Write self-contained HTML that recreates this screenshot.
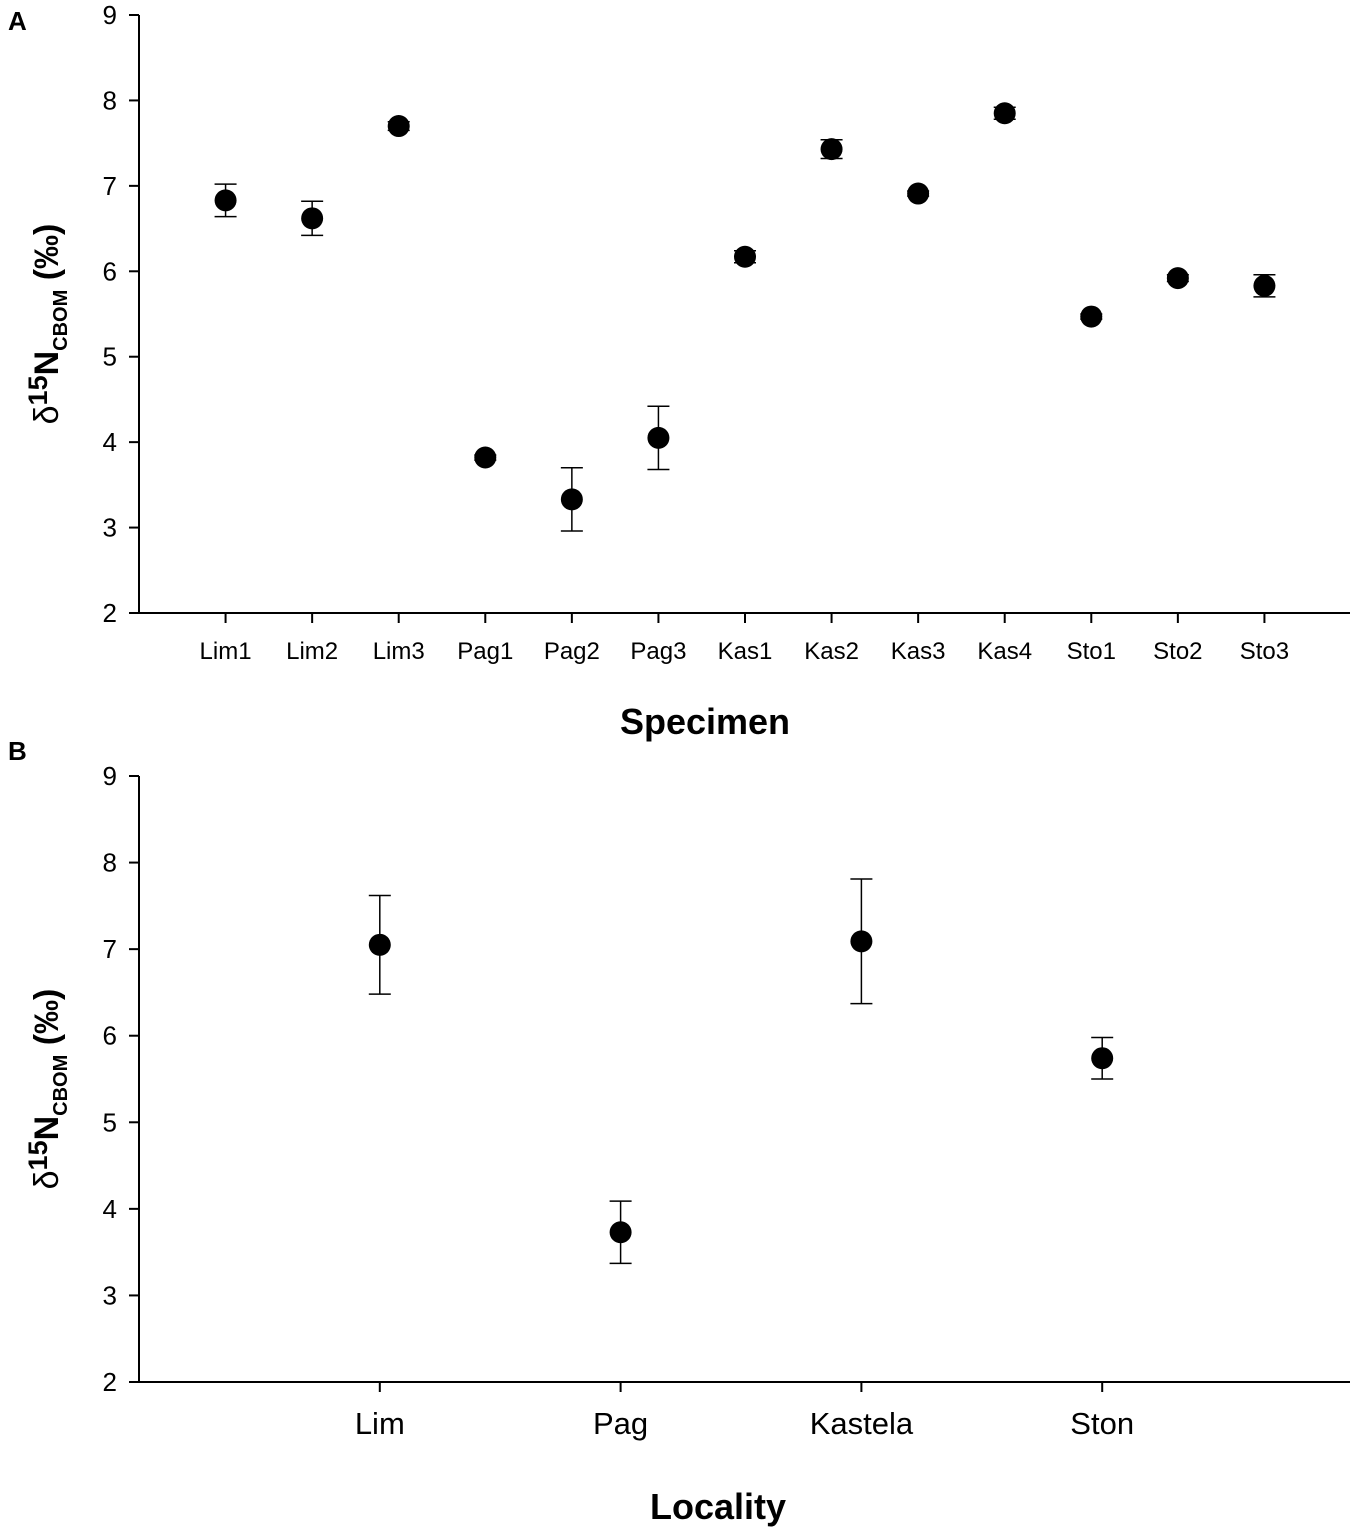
<!DOCTYPE html>
<html><head><meta charset="utf-8"><style>
body{margin:0;background:#fff;}
svg{display:block;font-family:"Liberation Sans",Arial,sans-serif;}
</style></head><body>
<svg id="fig" width="1356" height="1530" viewBox="0 0 1356 1530"></svg>
<script>
const catsA=["Lim1","Lim2","Lim3","Pag1","Pag2","Pag3","Kas1","Kas2","Kas3","Kas4","Sto1","Sto2","Sto3"];
const valsA=[6.83,6.62,7.70,3.82,3.33,4.05,6.17,7.43,6.91,7.85,5.47,5.92,5.83];
const errA=[0.19,0.20,0.05,0.03,0.37,0.37,0.07,0.11,0.03,0.07,0.03,0.04,0.13];
const catsB=["Lim","Pag","Kastela","Ston"];
const valsB=[7.05,3.73,7.09,5.74];
const errB=[0.57,0.36,0.72,0.24];
const yTicks=[2,3,4,5,6,7,8,9];
const NS="http://www.w3.org/2000/svg";
const svg=document.getElementById('fig');
function mk(t,a,txt){const e=document.createElementNS(NS,t);for(const k in a)e.setAttribute(k,a[k]);if(txt!==undefined)e.textContent=txt;svg.appendChild(e);return e;}
function panel(p,cats,vals,errs,xTitle,nm){
  const x0=139,x1=p.x1;
  const step=(x1-x0)/(cats.length+1);
  const xs=i=>x0+step*(i+1);
  const ys=v=>p.yb-(v-2)*(p.yb-p.yt)/7;
  let e=mk('line',{x1:x0,y1:p.yt,x2:x0,y2:p.yb,stroke:'#000','stroke-width':2});
  
  e=mk('line',{x1:x0,y1:p.yb,x2:1350,y2:p.yb,stroke:'#000','stroke-width':2});
  
  yTicks.forEach(t=>{
    e=mk('line',{x1:x0-10,y1:ys(t),x2:x0,y2:ys(t),stroke:'#000','stroke-width':2});
    
    e=mk('text',{x:x0-22,y:ys(t)+9,'text-anchor':'end','font-size':26},t);
    
  });
  cats.forEach((c,i)=>{
    const x=xs(i);
    e=mk('line',{x1:x,y1:p.yb,x2:x,y2:p.yb+10,stroke:'#000','stroke-width':2});
    
    e=mk('text',{x:x,y:p.yb+p.lab,'text-anchor':'middle','font-size':p.fs},c);
    
    const v=vals[i],er=errs[i];
    e=mk('line',{x1:x,y1:ys(v+er),x2:x,y2:ys(v-er),stroke:'#000','stroke-width':1.5});
    
    [v+er,v-er].forEach(w=>{e=mk('line',{x1:x-11,y1:ys(w),x2:x+11,y2:ys(w),stroke:'#000','stroke-width':1.5});
      });
    e=mk('circle',{cx:x,cy:ys(v),r:11,fill:'#000'});
    
  });
  e=mk('text',{x:p.xtx,y:p.xty,'text-anchor':'middle','font-size':36,'font-weight':'bold'},xTitle);
  
  const cy=(p.yt+p.yb)/2+10;
  e=mk('text',{transform:`translate(58,${cy}) rotate(-90)`,'text-anchor':'middle','font-size':34,'font-weight':'bold'});
  
  e.innerHTML='<tspan font-weight="normal">δ</tspan><tspan dy="-11" font-size="27">15</tspan><tspan dy="11">N</tspan><tspan dy="9" font-size="20">CBOM</tspan><tspan dy="-9"> (‰)</tspan>';
}
let e=mk('text',{x:8,y:30,'font-size':26,'font-weight':'bold'},'A');

e=mk('text',{x:8,y:760,'font-size':26,'font-weight':'bold'},'B');

panel({yt:15,yb:613,lab:46,fs:24,xtx:705,xty:734,x1:1351},catsA,valsA,errA,'Specimen','panel-a');
panel({yt:776,yb:1382,lab:52,fs:31,xtx:718,xty:1519,x1:1343},catsB,valsB,errB,'Locality','panel-b');
</script>
</body></html>
